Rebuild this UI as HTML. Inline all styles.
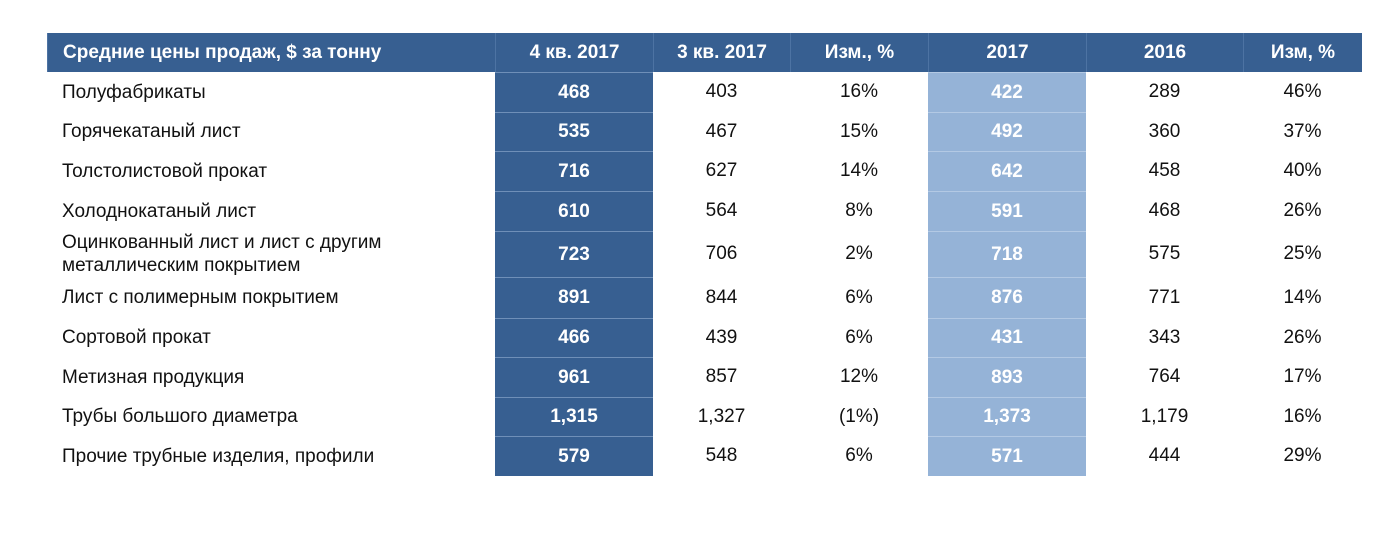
<!DOCTYPE html>
<html><head><meta charset="utf-8"><style>
body{margin:0;width:1400px;height:550px;background:#fff;font-family:"Liberation Sans",sans-serif;position:relative;overflow:hidden}
.c{position:absolute;display:flex;align-items:center;justify-content:center;font-size:19px;color:#111;box-sizing:border-box}
.l{justify-content:flex-start;padding-left:15px;line-height:23px}
.h{background:#375f91;color:#fff;font-weight:bold;border-left:1px solid #4d73a3}
.d{background:#375f91;color:#fff;font-weight:bold;border-top:1px solid #6f8fb8}
.b{background:#95b3d7;color:#fff;font-weight:bold;border-top:1px solid #b3c9e4}
</style></head><body>
<div id="t"></div>
<script>
const cols=[47,495,653,790,928,1086,1243,1362];
const headers=["Средние цены продаж, $ за тонну","4 кв. 2017","3 кв. 2017","Изм., %","2017","2016","Изм, %"];
const labels=["Полуфабрикаты","Горячекатаный лист","Толстолистовой прокат","Холоднокатаный лист","Оцинкованный лист и лист с другим<br>металлическим покрытием","Лист с полимерным покрытием","Сортовой прокат","Метизная продукция","Трубы большого диаметра","Прочие трубные изделия, профили"];
const q4=["468","535","716","610","723","891","466","961","1,315","579"];
const q3=["403","467","627","564","706","844","439","857","1,327","548"];
const chq=["16%","15%","14%","8%","2%","6%","6%","12%","(1%)","6%"];
const y17=["422","492","642","591","718","876","431","893","1,373","571"];
const y16=["289","360","458","468","575","771","343","764","1,179","444"];
const chy=["46%","37%","40%","26%","25%","14%","26%","17%","16%","29%"];
const rowsY=[72,112,151,191,231,277,318,357,397,436,476];
const t=document.getElementById('t');
function cell(x0,x1,y0,y1,html,cls){const d=document.createElement('div');d.className='c '+cls;d.style.left=x0+'px';d.style.width=(x1-x0)+'px';d.style.top=y0+'px';d.style.height=(y1-y0)+'px';d.innerHTML=html;t.appendChild(d);return d;}
headers.forEach((h,i)=>{const d=cell(cols[i],cols[i+1],33,72,h,'h'+(i==0?' l':''));

});
const data=[q4,q3,chq,y17,y16,chy];
const cls=['d','','','b','',''];
labels.forEach((lab,r)=>{const y0=rowsY[r],y1=rowsY[r+1];
const d=cell(cols[0],cols[1],y0,y1,lab,'l');


data.forEach((arr,c)=>{const e=cell(cols[c+1],cols[c+2],y0,y1,arr[r],cls[c]);

});});
</script>
</body></html>
